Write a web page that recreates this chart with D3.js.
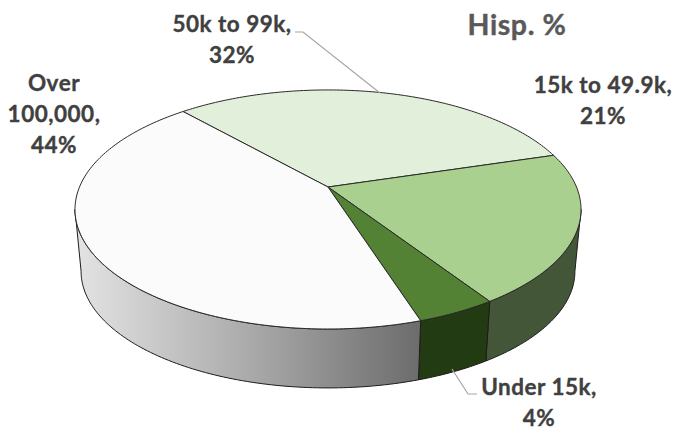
<!DOCTYPE html>
<html><head><meta charset="utf-8">
<script src="https://cdn.jsdelivr.net/npm/d3@7"></script>
<style>html,body{margin:0;padding:0;background:#fff}svg{display:block}text{font-family:Lato,"Open Sans",sans-serif;font-weight:700}</style>
</head><body><svg id="c" width="674" height="428"></svg>
<script>
const categories=["50k to 99k","15k to 49.9k","Under 15k","Over 100,000"];
const values=[32,20.5,4.3,43.5];
const percentLabels=["32%","21%","4%","44%"];
const topColors=["#e2efda","#a9d08e","#548235","#fbfbfb"];
const sideColors=["#59684f","#435637","#233b12","url(#overSide)"];
const title="Hisp. %";
const labelLines=[["50k to 99k,","32%"],["15k to 49.9k,","21%"],["Under 15k,","4%"],["Over","100,000,","44%"]];
const labelAnchors=[[232,25],[603,86],[539,388],[54,84]];
const leaders=[[[295,32],[303,32],[380,93]],null,[[452,369],[468,394],[477,394]],null];

const svg=d3.select("#c");
const defs=svg.append("defs");
const grad=defs.append("linearGradient").attr("id","overSide").attr("gradientUnits","userSpaceOnUse")
  .attr("x1",80).attr("x2",420).attr("y1",0).attr("y2",0);
grad.append("stop").attr("offset",0).attr("stop-color","#e2e2e2");
grad.append("stop").attr("offset",.5).attr("stop-color","#aaaaaa");
grad.append("stop").attr("offset",1).attr("stop-color","#6c6c6c");

const deg=Math.PI/180, start=-41.7*deg;
const pie=d3.pie().sort(null).startAngle(start).endAngle(start+2*Math.PI).value(d=>d);
const arcs=pie(values);
const persp=.188;
const project=(cx,cy,a,c)=>t=>{const X=Math.sin(t),Y=-Math.cos(t),w=1-persp*Y;return [cx+c*X/w,cy+a*Y/w];};
const topRim=project(328,187,115.3,248.5);
const lowRim=project(328,249.5,112.4,242.5);
const line=d3.line();
const samples=(a,b)=>{const n=Math.max(2,Math.ceil((b-a)/deg)),s=d3.scaleLinear().domain([0,n]).range([a,b]);return d3.range(n+1).map(s);};
const center=[328,187];
const visA=100.8*deg, visB=259.2*deg;

arcs.forEach((d,i)=>{
  const a=Math.max(d.startAngle,visA), b=Math.min(d.endAngle,visB);
  if(b<=a) return;
  const ts=samples(a,b);
  const pts=ts.map(topRim).concat(ts.slice().reverse().map(lowRim));
  svg.append("path").attr("d",line(pts)+"Z").attr("fill",sideColors[i])
    .attr("stroke","#1c1c1c").attr("stroke-width",1).attr("stroke-linejoin","round");
});
arcs.forEach((d,i)=>{
  const pts=[center].concat(samples(d.startAngle,d.endAngle).map(topRim));
  svg.append("path").attr("d",line(pts)+"Z").attr("fill",topColors[i])
    .attr("stroke","#2a2a2a").attr("stroke-width",1).attr("stroke-linejoin","round");
});
leaders.forEach(l=>{ if(l) svg.append("path").attr("d",line(l)).attr("fill","none").attr("stroke","#a6a6a6").attr("stroke-width",1.2); });
labelLines.forEach((ls,i)=>{
  const t=svg.append("text").attr("text-anchor","middle").attr("fill","#404040").attr("font-size",22.5)
    .attr("letter-spacing",.5).attr("stroke","#404040").attr("stroke-width",.35);
  ls.forEach((s,j)=>t.append("tspan").attr("x",labelAnchors[i][0]).attr("y",labelAnchors[i][1]+j*30.8).attr("dy","0.33em").text(s));
});
svg.append("text").attr("x",517).attr("y",25).attr("dy","0.35em").attr("text-anchor","middle").attr("fill","#595959").attr("font-size",28.5)
  .attr("letter-spacing",.6).attr("stroke","#595959").attr("stroke-width",.4).text(title);
</script></body></html>
